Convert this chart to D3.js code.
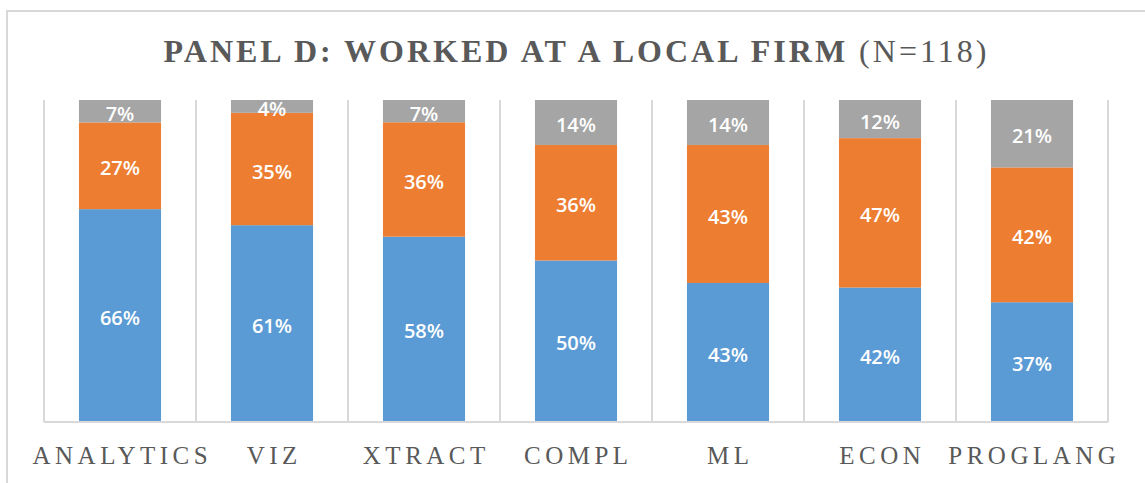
<!DOCTYPE html>
<html>
<head>
<meta charset="utf-8">
<script src="https://cdn.jsdelivr.net/npm/d3@7"></script>
<style>
  body { margin: 0; background: #fff; }
</style>
</head>
<body>
<svg id="chart" width="1145" height="483"></svg>
<script>
// categories and shares (percent, as labelled in the picture)
const categories = ["ANALYTICS", "VIZ", "XTRACT", "COMPL", "ML", "ECON", "PROGLANG"]
const seriesKeys = ["s1", "s2", "s3"]
const s1 = [66, 61, 58, 50, 43, 42, 37]
const s2 = [27, 35, 36, 36, 43, 47, 42]
const s3 = [7, 4, 7, 14, 14, 12, 21]
const colors = ["#5B9BD5", "#ED7D31", "#A5A5A5"]

const rows = categories.map((c, i) => ({cat: c, s1: s1[i], s2: s2[i], s3: s3[i]}))

const svg = d3.select("#chart")
const plotLeft = 44, plotRight = 1108, plotTop = 100, plotBottom = 421

// outer frame
svg.append("rect")
    .attr("x", 7).attr("y", 11)
    .attr("width", 1160).attr("height", 500)
    .attr("fill", "none")
    .attr("stroke", "#d9d9d9")
    .attr("stroke-width", 2)

// title
const title = svg.append("text")
    .attr("x", 575 + 1.5)
    .attr("y", 62)
    .attr("text-anchor", "middle")
    .style("font-family", "'Liberation Serif', 'Times New Roman', serif")
    .style("font-size", "32px")
    .style("letter-spacing", "3px")
    .style("fill", "#595959")
title.append("tspan").style("font-weight", "bold").text("PANEL D: WORKED AT A LOCAL FIRM ")
title.append("tspan").text("(N=118)")

const xScale = d3.scaleBand()
    .domain(categories)
    .range([plotLeft, plotRight])
    .paddingInner(0.46)
    .paddingOuter(0.23)

const yScale = d3.scaleLinear()
    .domain([0, 1])
    .range([plotBottom, plotTop])

const stacked = d3.stack()
    .keys(seriesKeys)
    .offset(d3.stackOffsetExpand)(rows)

// vertical separators between categories
const bandStep = (plotRight - plotLeft) / categories.length
const seps = d3.range(categories.length + 1).map(i => plotLeft + i * bandStep)
svg.append("g")
    .selectAll("line")
    .data(seps)
    .enter()
    .append("line")
    .attr("x1", d => d).attr("x2", d => d)
    .attr("y1", plotTop).attr("y2", plotBottom + 1)
    .attr("stroke", "#d9d9d9")
    .attr("stroke-width", 2)

// bars
const layers = svg.append("g")
    .selectAll("g")
    .data(stacked)
    .enter()
    .append("g")
    .attr("fill", (d, i) => colors[i])

layers.selectAll("rect")
    .data(d => d)
    .enter()
    .append("rect")
    .attr("x", d => xScale(d.data.cat))
    .attr("width", xScale.bandwidth())
    .attr("y", d => yScale(d[1]))
    .attr("height", d => yScale(d[0]) - yScale(d[1]))

// data labels
stacked.forEach(layer => {
    svg.append("g")
        .selectAll("text")
        .data(layer)
        .enter()
        .append("text")
        .attr("x", d => xScale(d.data.cat) + xScale.bandwidth() / 2)
        .attr("y", d => (yScale(d[0]) + yScale(d[1])) / 2)
        .attr("dy", "0.48em")
        .attr("text-anchor", "middle")
        .style("font-family", "'Open Sans', 'Noto Sans', sans-serif")
        .style("font-size", "20px")
        .style("font-weight", "600")
        .style("fill", "#fff")
        .text(d => d.data[layer.key] + "%")
})

// baseline axis
const axisB = d3.axisBottom(xScale).tickSize(0).tickPadding(24)
const gx = svg.append("g")
    .attr("transform", "translate(0," + (plotBottom + 1) + ")")
    .call(axisB)
gx.select(".domain")
    .attr("d", "M" + plotLeft + ",0H" + plotRight)
    .attr("stroke", "#d9d9d9")
    .attr("stroke-width", 2)
gx.selectAll("text")
    .attr("dx", "2.3")
    .style("font-family", "'Liberation Serif', 'Times New Roman', serif")
    .style("font-size", "25px")
    .style("letter-spacing", "4.5px")
    .style("fill", "#595959")
</script>
</body>
</html>
